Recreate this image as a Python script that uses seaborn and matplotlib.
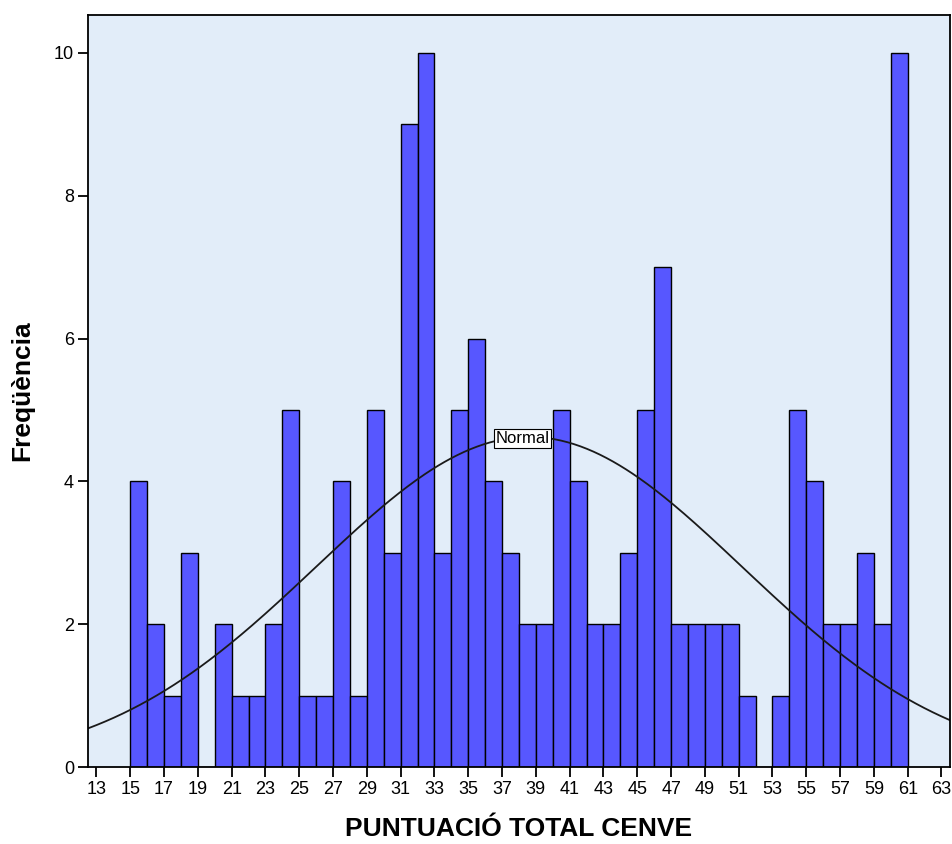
import numpy as np
import pandas as pd
import matplotlib
matplotlib.use("Agg")
import matplotlib.pyplot as plt
import seaborn as sns

# Data (bins of width 1, left edges 15..60)
scores = list(range(15, 61))
counts = [4, 2, 1, 3, 0, 2, 1, 1, 2, 5,
          1, 1, 4, 1, 5, 3, 9, 10, 3, 5,
          6, 4, 3, 2, 2, 5, 4, 2, 2, 3,
          5, 7, 2, 2, 2, 2, 1, 0, 1, 5,
          4, 2, 2, 3, 2, 10]
xticks = list(range(13, 64, 2))
yticks = [0, 2, 4, 6, 8, 10]
normal_mean = 38.6
normal_sd = 12.6

df = pd.DataFrame({"score": [s + 0.5 for s in scores], "n": counts})

sns.set_style("white")
plt.rcParams["font.family"] = ["Arial", "Liberation Sans", "DejaVu Sans"]

fig = plt.figure(figsize=(9.53, 8.44), dpi=100)
ax = fig.add_axes([0.0923, 0.0912, 0.9045, 0.891])
ax.set_facecolor("#E2EDF9")

sns.histplot(data=df, x="score", weights="n", binwidth=1, binrange=(15, 61),
             color="#5757FF", edgecolor="black", linewidth=1.0, alpha=1.0, ax=ax)

N = sum(counts)
xs = np.linspace(12.5, 63.5, 400)
ys = N * 1.0 / (normal_sd * np.sqrt(2 * np.pi)) * np.exp(-0.5 * ((xs - normal_mean) / normal_sd) ** 2)
ax.plot(xs, ys, color="#1a1a1a", linewidth=1.3)
ax.text(38.2, 4.6, "Normal", ha="center", va="center", fontsize=12, color="black",
        bbox=dict(boxstyle="square,pad=0.1", facecolor="white", edgecolor="black", linewidth=0.8))

ax.set_xlim(12.5, 63.5)
ax.set_ylim(0, 10.53)
ax.set_xticks(xticks)
ax.set_xticklabels([str(t) for t in xticks])
ax.set_yticks(yticks)
ax.set_yticklabels([str(t) for t in yticks])
ax.tick_params(axis="both", direction="out", length=7, width=1.3, labelsize=13,
               color="black", labelcolor="black", bottom=True, left=True)
ax.tick_params(axis="x", pad=3)
ax.tick_params(axis="y", pad=3)
for s in ax.spines.values():
    s.set_color("black")
    s.set_linewidth(1.3)
ax.set_xlabel("PUNTUACIÓ TOTAL CENVE", fontsize=19, fontweight="bold", labelpad=14, color="black")
ax.set_ylabel("Freqüència", fontsize=19, fontweight="bold", labelpad=14, color="black")

fig.savefig("out.png", dpi=100)
